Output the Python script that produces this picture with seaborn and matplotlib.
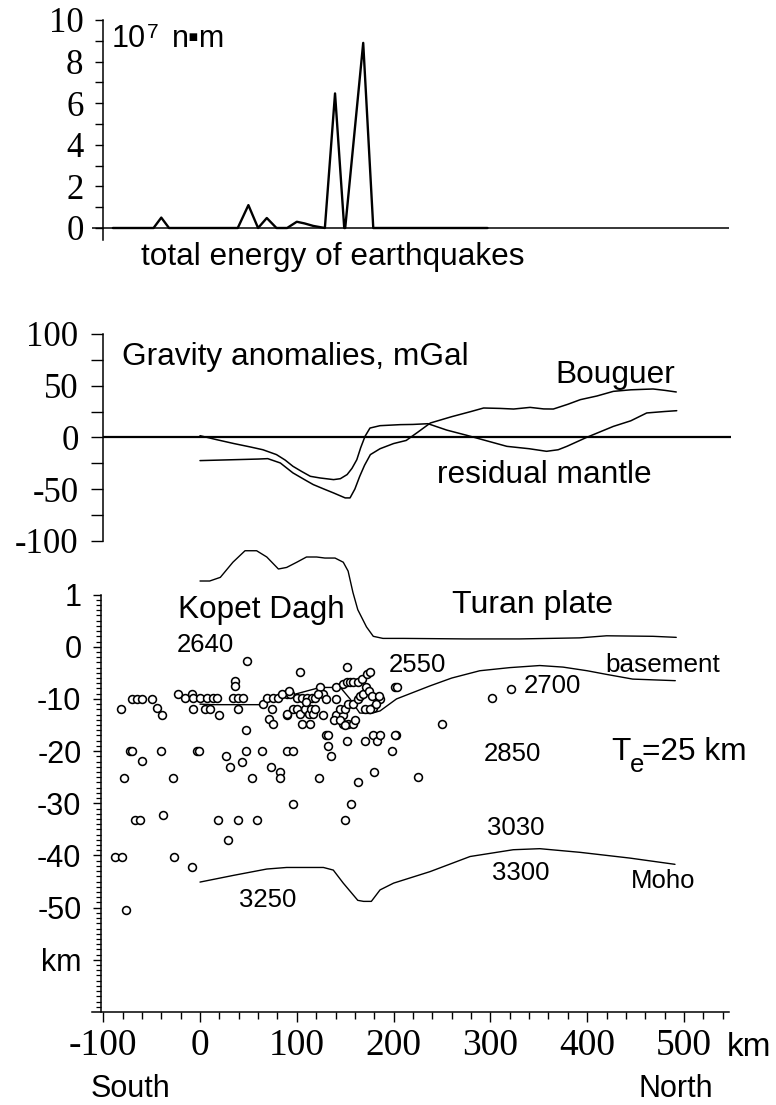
import numpy as np
import pandas as pd
import matplotlib
matplotlib.use("Agg")
import matplotlib.pyplot as plt
import seaborn as sns
from matplotlib.ticker import FixedLocator, FixedFormatter, MultipleLocator, NullFormatter

# ---------------- data ----------------
# total energy of earthquakes (10^7 N m) along profile (km)
energy_km = [-90, -48, -40, -32, 39, 50, 60, 69, 79, 90, 100, 108, 117, 129, 139.5, 149, 150, 168.6, 179, 297]
energy_val = [0, 0, 0.5, 0, 0, 1.1, 0, 0.48, 0, 0, 0.3, 0.22, 0.1, 0, 6.47, 0, 0, 8.9, 0, 0]

# gravity anomalies (mGal)
bouguer_km = [0, 20, 40, 60, 70, 83, 96, 110, 117, 128, 138, 150, 155, 160, 165, 170, 176, 186, 200, 213,
              225, 238, 260, 280, 293, 310, 324, 341, 355, 365, 380, 393, 410, 427, 445, 468, 480, 492]
bouguer_val = [-22.5, -22, -21.5, -21, -20.6, -24.8, -34.4, -42, -45.7, -50, -53.8, -58.6, -58.6, -50, -37.7,
               -27, -16.7, -11, -6, -3, 5, 13.9, 20, 25, 28.4, 28, 27.4, 29, 27.5, 27.4, 32, 36.5, 40, 44.5,
               46, 46.8, 45.5, 43.9]
residual_km = [0, 17, 35, 52, 65, 79, 88, 96, 105, 114, 124, 138, 145, 152, 157, 162, 166, 170.5, 175.6,
               186, 207, 220, 235.5, 255, 275.5, 289, 317, 340, 358, 370, 379, 399.5, 427, 445, 461.5, 480, 492.5]
residual_val = [1.6, -2.2, -6, -9.3, -12, -16.7, -22, -28, -33, -37.7, -39.3, -40.9, -40, -36, -30, -21.6,
                -10, 1, 9, 11.3, 12.3, 12.5, 13.2, 7, 2, -1.5, -8.7, -11, -13.5, -12, -8.7, 0, 10.6, 16,
                23.6, 25, 25.8]

# topography (km, vertically exaggerated x10 above sea level)
topo_km = [0, 10, 21, 34, 46.5, 58.5, 69, 81, 89.5, 100, 110, 120.5, 129, 139.5, 148, 153, 158, 163, 172,
           179, 189, 210, 275, 330, 392, 420, 468, 492]
topo_val = [1.26, 1.26, 1.33, 1.62, 1.84, 1.84, 1.72, 1.49, 1.52, 1.62, 1.72, 1.72, 1.70, 1.70, 1.62, 1.45,
            1.04, 0.71, 0.38, 0.20, 0.16, 0.16, 0.15, 0.15, 0.17, 0.21, 0.20, 0.18]

# basement depth (km)
base_km = [0, 13, 40, 62, 69, 90, 110, 124, 145, 155, 165, 176, 186, 203, 237.6, 260, 289, 320, 351, 375,
           400, 420, 447, 491]
base_val = [-11, -11.1, -11.1, -11.1, -10.4, -9.5, -8.5, -7.8, -7.8, -10, -12.7, -12.8, -12.3, -10, -7.5,
            -6, -4.6, -4, -3.6, -3.9, -4.6, -5.3, -6.2, -6.5]

# Moho depth (km)
moho_km = [0, 35, 69, 89.5, 127.5, 137.7, 148, 163, 169, 177, 186, 200, 237.6, 279, 323.6, 351, 392.6, 444, 490.7]
moho_val = [-45.1, -43.8, -42.6, -42.3, -42.3, -42.8, -45.3, -48.6, -48.8, -48.8, -46.6, -45.3, -43.1, -40.2,
            -38.9, -38.7, -39.4, -40.5, -41.7]

# earthquake hypocentres (km along profile, depth km)
quake_km = [-82, -70, -65, -60, -50, -44.7, -39.6, -72.3, -70, -60.2, -78.5, -40.6, -28.2, -67.1, -62, -38.5,
            -87.8, -80.9, -26.5, -8.6, -76.2, -22.4, -15.5, -8.6, -6.9, 0, 6.9, 13.7, 17.2, -7.5, 5.2, 10.3,
            19.6, -2.8, -1, 36.2, 36.2, 48.2, 34.4, 39.6, 44.7, 39.6, 47.2, 18.9, 38.9, 58.6, 29.3, 26.5, 31,
            43.1, 47.5, 54, 63.7, 73.3, 82.6, 82.6, 89.6, 96.5, 95.7, 71.6, 75.7, 89.6, 105, 113.6, 123.3,
            127.4, 130, 132, 132.5, 135, 141, 148, 148, 153, 158, 151.5, 149.8, 156, 163.5, 170.5, 178.4,
            182.5, 186, 180, 198, 202.5, 179, 186, 201.4, 301.3, 321, 249.7, 201, 225.5,
            65.4, 68.9, 75.8, 81, 74, 89.6, 93, 99.9, 105, 110.2, 115.4, 118.8, 89.6, 96, 99.9, 103, 108,
            113, 115, 117, 119, 124, 127.4, 103.3, 141, 148, 151.5, 155, 158.5, 163.6, 167, 172.2, 175.6,
            151.5, 140, 145, 150, 153, 158, 163, 165, 168, 172, 175, 178, 182, 185, 138, 145, 150, 203,
            85, 92, 110, 122, 130, 160, 170, 176]
quake_z = [-12, -10, -10, -10, -10, -11.8, -13, -20, -20, -21.9, -25.1, -20, -25.1, -33.2, -33.2, -32.2,
           -40.3, -40.3, -40.3, -42.2, -50.4, -9.1, -9.9, -9.1, -9.9, -9.9, -9.9, -9.9, -9.9, -12, -12, -12,
           -13, -20, -20, -6.5, -7.5, -2.8, -9.9, -9.9, -9.9, -12, -15.9, -33.2, -33.2, -33.2, -37.1, -20.9,
           -23.1, -22, -20, -25.1, -20, -23, -24, -25.1, -20, -20, -30.1, -13.9, -14.9, -13, -14.9, -14.9,
           -25.1, -13, -16.9, -16.9, -19, -20.9, -13, -13, -14.9, -14.9, -14.9, -18, -33.2, -30.1, -26,
           -18, -16.9, -18, -16.9, -24.1, -20, -16.9, -11.8, -10, -7.8, -9.9, -8.1, -14.9, -16.9, -25,
           -11, -9.9, -9.9, -9.9, -12, -9.1, -9.1, -9.9, -9.9, -9.9, -9.9, -9.9, -12.8, -12, -12, -12.8,
           -12, -12.8, -12, -12.8, -12, -7.8, -9.1, -4.9, -7.8, -7.1, -6.8, -6.8, -6.8, -6.8, -6.2, -5.2,
           -4.9, -3.9, -10, -12, -12, -11, -11, -10, -9.5, -9, -7.8, -8.5, -9.5, -11, -9.5, -14, -14, -15,
           -7.8, -9.1, -8.5, -10.5, -9.1, -10, -14, -12, -12]

x_major = [-100, 0, 100, 200, 300, 400, 500]
x_major_labels = ["-100", "0", "100", "200", "300", "400", "500"]
energy_ticks = [0, 2, 4, 6, 8, 10]
gravity_ticks = [-100, -50, 0, 50, 100]
depth_ticks = [1, 0, -10, -20, -30, -40, -50, -60]
depth_labels = ["1", "0", "-10", "-20", "-30", "-40", "-50", "km"]

# ---------------- style ----------------
sns.set_theme(style="white")
plt.rcParams["font.family"] = ["Liberation Sans", "DejaVu Sans"]
plt.rcParams["axes.unicode_minus"] = False

W, H = 776, 1105
fig = plt.figure(figsize=(W / 100, H / 100), dpi=100)
fig.patch.set_facecolor("white")

XL, XR = -112, 546
def kpx(k):
    return 200 + 0.968 * k

def add_ax(top, bottom):
    l, r = kpx(XL), kpx(XR)
    return fig.add_axes([l / W, 1 - bottom / H, (r - l) / W, (bottom - top) / H])

def ftext(x, y, s, size, **kw):
    fig.text(x / W, 1 - y / H, s, fontsize=size, ha="left", va="baseline",
             color="black", **kw)

SANS = ["Liberation Sans", "DejaVu Sans"]
SERIF = "Liberation Serif"

def style_axes(ax, spine_x):
    ax.set_facecolor("none")
    for s in ["top", "right"]:
        ax.spines[s].set_visible(False)
    ax.spines["left"].set_position(("data", spine_x))
    ax.spines["left"].set_color("black")
    ax.spines["left"].set_linewidth(1.1)
    ax.spines["bottom"].set_color("black")
    ax.spines["bottom"].set_linewidth(1.1)
    ax.set_xlim(XL, XR)
    ax.grid(False)
    ax.set_xlabel("")
    ax.set_ylabel("")

# ---------- top: energy ----------
ax1 = add_ax(20, 240)
ax1.set_ylim(-0.577, 10)
ax1.axhline(0, color="black", lw=1.1, zorder=1)
sns.lineplot(x=energy_km, y=energy_val, ax=ax1, color="black", lw=1.7, sort=False, estimator=None, zorder=2)
style_axes(ax1, -100.5)
ax1.spines["bottom"].set_visible(False)
ax1.yaxis.set_major_locator(FixedLocator(energy_ticks))
ax1.yaxis.set_minor_locator(FixedLocator([1, 3, 5, 7, 9]))
ax1.set_xticks([])
ax1.tick_params(axis="y", which="both", direction="out", length=5.8, width=1.0, color="black",
                left=True, labelsize=25, pad=8, labelfontfamily=SERIF, labelcolor="black")

ftext(111.7, 46.7, "10", 22, family=SANS)
ftext(146.7, 38, "7", 15, family=SANS)
ftext(171.5, 46.7, "n▪m", 22, family=SANS)
ftext(141, 265, "total energy of earthquakes", 22.8, family=SANS)

# ---------- middle: gravity ----------
ax2 = add_ax(334, 540.7)
ax2.set_ylim(-100, 100)
ax2.hlines(0, -100.2, 549, color="black", lw=1.6, clip_on=False, zorder=1)
sns.lineplot(x=bouguer_km, y=bouguer_val, ax=ax2, color="black", lw=1.1, sort=False, estimator=None)
sns.lineplot(x=residual_km, y=residual_val, ax=ax2, color="black", lw=1.1, sort=False, estimator=None)
style_axes(ax2, -100.2)
ax2.spines["bottom"].set_visible(False)
ax2.yaxis.set_major_locator(FixedLocator(gravity_ticks))
ax2.yaxis.set_minor_locator(FixedLocator([-75, -25, 25, 75]))
ax2.set_xticks([])
ax2.tick_params(axis="y", which="both", direction="out", length=8.6, width=1.0, color="black",
                left=True, labelsize=25, pad=9, labelfontfamily=SERIF, labelcolor="black")

ftext(121.7, 365, "Gravity anomalies, mGal", 22.8, family=SANS)
ftext(555, 382.7, "Bouguer", 22.8, family=SANS)
ftext(436.7, 483.3, "residual mantle", 22.8, family=SANS)

# ---------- bottom: cross-section ----------
ax3 = add_ax(545, 1012)
def fwd(y):
    y = np.asarray(y, dtype=float)
    return np.where(y > 0, y * 10.0, y)
def inv(u):
    u = np.asarray(u, dtype=float)
    return np.where(u > 0, u / 10.0, u)
ax3.set_yscale("function", functions=(fwd, inv))
ax3.set_ylim(-70, 1.95)

sns.lineplot(x=topo_km, y=topo_val, ax=ax3, color="black", lw=1.0, sort=False, estimator=None)
sns.lineplot(x=base_km, y=base_val, ax=ax3, color="black", lw=1.0, sort=False, estimator=None)
sns.lineplot(x=moho_km, y=moho_val, ax=ax3, color="black", lw=1.0, sort=False, estimator=None)
sns.scatterplot(x=quake_km, y=quake_z, ax=ax3, marker="o", s=32, color="white",
                edgecolor="black", linewidth=1.15, zorder=3)
style_axes(ax3, -102)
ax3.spines["left"].set_bounds(-70, 1)
ax3.yaxis.set_major_locator(FixedLocator(depth_ticks))
ax3.yaxis.set_major_formatter(FixedFormatter(depth_labels))
minor_y = [v for v in range(-70, 0) if v % 10 != 0] + [round(0.1 * i, 1) for i in range(1, 10)]
ax3.yaxis.set_minor_locator(FixedLocator(minor_y))
ax3.yaxis.set_minor_formatter(NullFormatter())
ax3.tick_params(axis="y", which="major", direction="out", length=5.8, width=1.0, color="black",
                left=True, labelsize=22, pad=8.5, labelfontfamily="Liberation Sans", labelcolor="black")
ax3.tick_params(axis="y", which="minor", direction="out", length=3.6, width=0.9, color="black", left=True)

ax3.xaxis.set_major_locator(FixedLocator(x_major))
ax3.xaxis.set_major_formatter(FixedFormatter(x_major_labels))
ax3.xaxis.set_minor_locator(MultipleLocator(20))
ax3.tick_params(axis="x", which="major", direction="out", length=7.2, width=1.0, color="black",
                bottom=True, labelsize=27, pad=5, labelfontfamily=SERIF, labelcolor="black")
ax3.tick_params(axis="x", which="minor", direction="out", length=4.8, width=1.0, color="black", bottom=True)

ftext(178.3, 618.3, "Kopet Dagh", 22.7, family=SANS)
ftext(451.7, 613.3, "Turan plate", 23, family=SANS)
ftext(176.7, 651.7, "2640", 18.5, family=SANS)
ftext(388.3, 671.7, "2550", 18.5, family=SANS)
ftext(605, 671.7, "basement", 18.8, family=SANS)
ftext(523.3, 693.3, "2700", 18.5, family=SANS)
ftext(483.3, 761, "2850", 18.5, family=SANS)
ftext(611.7, 760, "T", 22.8, family=SANS)
ftext(629.5, 771.7, "e", 18.5, family=SANS)
ftext(641.7, 760, "=25 km", 22.8, family=SANS)
ftext(487.3, 835, "3030", 18.5, family=SANS)
ftext(491.7, 880, "3300", 18.5, family=SANS)
ftext(630.7, 888.3, "Moho", 18.5, family=SANS)
ftext(239, 906.7, "3250", 18.5, family=SANS)
ftext(727, 1056, "km", 24, family=SANS)
ftext(90.6, 1097, "South", 22, family=SANS)
ftext(638.6, 1097, "North", 22, family=SANS)

fig.savefig("out.png", dpi=100, facecolor="white")
